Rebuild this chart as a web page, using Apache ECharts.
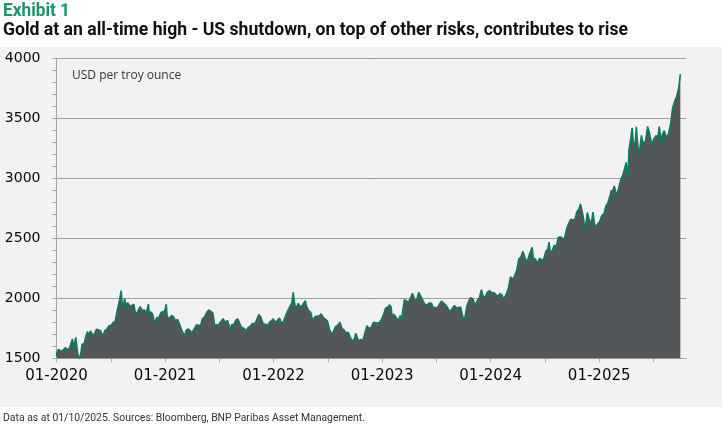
<!DOCTYPE html>
<html>
<head>
<meta charset="utf-8">
<script src="https://cdn.jsdelivr.net/npm/echarts@6/dist/echarts.min.js"></script>
<style>
html,body{margin:0;padding:0;background:#fff;}
#c{width:725px;height:424px;}
</style>
</head>
<body>
<div id="c"></div>
<script>
// ---- data: gold price, USD per troy ounce ----
const gold2020 = [
['2020-01-01',1520],['2020-01-03',1552],['2020-01-08',1575],['2020-01-10',1562],['2020-01-17',1557],['2020-01-24',1571],['2020-01-31',1589],
['2020-02-07',1570],['2020-02-14',1584],['2020-02-21',1643],['2020-02-24',1660],['2020-02-28',1585],
['2020-03-06',1674],['2020-03-09',1680],['2020-03-13',1530],['2020-03-19',1498],['2020-03-24',1555],['2020-03-27',1617],
['2020-04-03',1620],['2020-04-09',1683],['2020-04-14',1722],['2020-04-21',1687],['2020-04-24',1729],
['2020-05-01',1700],['2020-05-08',1702],['2020-05-15',1743],['2020-05-22',1735],['2020-05-29',1730],
['2020-06-05',1684],['2020-06-12',1730],['2020-06-19',1743],['2020-06-26',1771],
['2020-07-03',1775],['2020-07-10',1798],['2020-07-17',1810],['2020-07-24',1902],['2020-07-31',1975],
['2020-08-06',2063],['2020-08-11',1912],['2020-08-14',1944],['2020-08-18',2000],['2020-08-21',1940],['2020-08-28',1964],
['2020-09-04',1934],['2020-09-11',1940],['2020-09-18',1950],['2020-09-24',1862],['2020-09-30',1886],
['2020-10-09',1930],['2020-10-16',1900],['2020-10-23',1902],['2020-10-30',1879],
['2020-11-06',1951],['2020-11-09',1862],['2020-11-13',1887],['2020-11-20',1871],['2020-11-27',1788],['2020-11-30',1776],
['2020-12-04',1839],['2020-12-11',1839],['2020-12-18',1881],['2020-12-24',1877],['2020-12-31',1895]
];
const gold2021 = [
['2021-01-05',1950],['2021-01-08',1850],['2021-01-15',1829],['2021-01-22',1856],['2021-01-29',1848],
['2021-02-05',1814],['2021-02-12',1824],['2021-02-19',1784],['2021-02-26',1734],
['2021-03-05',1700],['2021-03-08',1683],['2021-03-12',1727],['2021-03-19',1745],['2021-03-26',1733],['2021-03-31',1708],
['2021-04-09',1744],['2021-04-16',1777],['2021-04-23',1777],['2021-04-30',1768],
['2021-05-07',1831],['2021-05-14',1844],['2021-05-21',1881],['2021-05-28',1903],['2021-06-01',1905],
['2021-06-04',1891],['2021-06-11',1877],['2021-06-17',1774],['2021-06-25',1781],['2021-06-29',1751],
['2021-07-02',1787],['2021-07-09',1808],['2021-07-15',1829],['2021-07-23',1802],['2021-07-30',1814],
['2021-08-06',1763],['2021-08-09',1729],['2021-08-13',1780],['2021-08-20',1781],['2021-08-27',1818],
['2021-09-03',1827],['2021-09-10',1788],['2021-09-17',1754],['2021-09-24',1750],['2021-09-29',1726],
['2021-10-08',1757],['2021-10-15',1768],['2021-10-22',1793],['2021-10-29',1783],
['2021-11-05',1818],['2021-11-12',1865],['2021-11-16',1852],['2021-11-19',1846],['2021-11-26',1792],
['2021-12-03',1783],['2021-12-10',1782],['2021-12-15',1764],['2021-12-17',1798],['2021-12-24',1811],['2021-12-31',1829]
];
const gold2022 = [
['2022-01-07',1797],['2022-01-14',1817],['2022-01-21',1835],['2022-01-28',1791],
['2022-02-04',1808],['2022-02-11',1859],['2022-02-18',1898],['2022-02-24',1905],
['2022-03-04',1966],['2022-03-08',2050],['2022-03-11',1988],['2022-03-16',1910],['2022-03-18',1921],['2022-03-25',1958],
['2022-04-01',1925],['2022-04-08',1945],['2022-04-18',1979],['2022-04-22',1932],['2022-04-29',1897],
['2022-05-06',1883],['2022-05-13',1811],['2022-05-16',1797],['2022-05-20',1846],['2022-05-27',1853],
['2022-06-03',1850],['2022-06-10',1871],['2022-06-17',1840],['2022-06-24',1827],
['2022-07-01',1811],['2022-07-08',1742],['2022-07-14',1703],['2022-07-22',1727],['2022-07-29',1766],
['2022-08-05',1775],['2022-08-12',1802],['2022-08-19',1747],['2022-08-26',1737],
['2022-09-02',1712],['2022-09-09',1716],['2022-09-16',1675],['2022-09-23',1644],['2022-09-28',1628],['2022-09-30',1661],
['2022-10-04',1708],['2022-10-14',1644],['2022-10-21',1657],['2022-10-28',1645],
['2022-11-03',1630],['2022-11-11',1771],['2022-11-18',1751],['2022-11-25',1755],
['2022-12-02',1797],['2022-12-09',1797],['2022-12-16',1793],['2022-12-23',1798],['2022-12-30',1824]
];
const gold2023 = [
['2023-01-06',1865],['2023-01-13',1920],['2023-01-20',1926],['2023-01-26',1946],['2023-01-31',1928],
['2023-02-03',1865],['2023-02-10',1865],['2023-02-17',1842],['2023-02-24',1811],
['2023-03-03',1856],['2023-03-08',1815],['2023-03-10',1868],['2023-03-17',1989],['2023-03-24',1978],['2023-03-31',1969],
['2023-04-07',2007],['2023-04-13',2041],['2023-04-21',1983],['2023-04-28',1990],
['2023-05-04',2050],['2023-05-12',2011],['2023-05-19',1977],['2023-05-26',1946],
['2023-06-02',1948],['2023-06-09',1961],['2023-06-16',1958],['2023-06-23',1921],['2023-06-29',1908],
['2023-07-07',1925],['2023-07-14',1955],['2023-07-20',1977],['2023-07-28',1959],
['2023-08-04',1943],['2023-08-11',1914],['2023-08-18',1889],['2023-08-25',1915],
['2023-09-01',1940],['2023-09-08',1919],['2023-09-15',1924],['2023-09-22',1925],['2023-09-29',1849],
['2023-10-05',1820],['2023-10-13',1933],['2023-10-20',1981],['2023-10-27',2006],
['2023-11-03',1992],['2023-11-10',1940],['2023-11-17',1981],['2023-11-24',2002],
['2023-12-01',2072],['2023-12-08',2005],['2023-12-15',2019],['2023-12-22',2053],['2023-12-29',2063]
];
const gold2024 = [
['2024-01-05',2045],['2024-01-12',2049],['2024-01-19',2029],['2024-01-26',2018],
['2024-02-02',2039],['2024-02-09',2024],['2024-02-14',1992],['2024-02-23',2036],
['2024-03-01',2083],['2024-03-08',2179],['2024-03-15',2155],['2024-03-21',2181],['2024-03-29',2233],
['2024-04-05',2329],['2024-04-12',2344],['2024-04-19',2391],['2024-04-26',2337],
['2024-05-03',2302],['2024-05-10',2360],['2024-05-20',2425],['2024-05-24',2333],['2024-05-31',2327],
['2024-06-07',2294],['2024-06-14',2333],['2024-06-21',2322],['2024-06-28',2326],
['2024-07-05',2391],['2024-07-12',2411],['2024-07-16',2469],['2024-07-19',2400],['2024-07-26',2387],
['2024-08-02',2443],['2024-08-09',2431],['2024-08-16',2507],['2024-08-23',2512],['2024-08-30',2503],
['2024-09-06',2497],['2024-09-13',2577],['2024-09-20',2622],['2024-09-27',2658],
['2024-10-04',2653],['2024-10-11',2657],['2024-10-18',2721],['2024-10-25',2747],['2024-10-30',2787],
['2024-11-08',2685],['2024-11-14',2565],['2024-11-22',2715],['2024-11-29',2650],
['2024-12-06',2633],['2024-12-11',2718],['2024-12-18',2586],['2024-12-27',2621]
];
const gold2025 = [
['2025-01-03',2640],['2025-01-10',2690],['2025-01-17',2703],['2025-01-24',2770],['2025-01-31',2799],
['2025-02-07',2861],['2025-02-11',2900],['2025-02-14',2883],['2025-02-21',2936],['2025-02-28',2858],
['2025-03-07',2910],['2025-03-14',2984],['2025-03-21',3023],['2025-03-28',3084],
['2025-04-02',3134],['2025-04-08',2982],['2025-04-11',3237],['2025-04-17',3327],['2025-04-22',3420],['2025-04-25',3319],
['2025-05-01',3240],['2025-05-06',3430],['2025-05-09',3325],['2025-05-15',3180],['2025-05-23',3357],['2025-05-29',3290],
['2025-06-06',3310],['2025-06-13',3432],['2025-06-20',3368],['2025-06-27',3274],
['2025-07-03',3326],['2025-07-11',3355],['2025-07-18',3350],['2025-07-22',3430],['2025-07-30',3275],
['2025-08-01',3362],['2025-08-08',3397],['2025-08-15',3336],['2025-08-22',3371],['2025-08-29',3448],
['2025-09-05',3586],['2025-09-12',3643],['2025-09-19',3685],['2025-09-26',3760],['2025-10-01',3868]
];
const yTicks = [1500, 2000, 2500, 3000, 3500, 4000];
const xYears = [2020, 2021, 2022, 2023, 2024, 2025];

const exhibitText = 'Exhibit 1';
const titleText = 'Gold at an all-time high - US shutdown, on top of other risks, contributes to rise';
const unitText = 'USD per troy ounce';
const noteText = 'Data as at 01/10/2025. Sources: Bloomberg, BNP Paribas Asset Management.';

// ---- helpers ----
function decYear(s) {
  const [y, m, d] = s.split('-').map(Number);
  const start = Date.UTC(y, 0, 1), end = Date.UTC(y + 1, 0, 1);
  return y + (Date.UTC(y, m - 1, d) - start) / (end - start);
}
const series = [].concat(gold2020, gold2021, gold2022, gold2023, gold2024, gold2025)
  .map(p => [decYear(p[0]), p[1]]);

const ctx = document.createElement('canvas').getContext('2d');
function fitScale(text, font, width) {
  ctx.font = font;
  return width / ctx.measureText(text).width;
}

const titleFont = 'bold 18px Roboto';
const noteFont = '10.5px Roboto';
const exFont = 'bold 19px Roboto';

const chart = echarts.init(document.getElementById('c'), null, {renderer: 'canvas'});
chart.setOption({
  animation: false,
  backgroundColor: '#ffffff',
  graphic: [
    {type: 'rect', z: -10, silent: true, shape: {x: 0, y: 47, width: 722, height: 360}, style: {fill: '#f2f2f2'}},
    {type: 'text', x: 3, y: 11, scaleX: fitScale(exhibitText, exFont, 67), style: {text: exhibitText, font: exFont, fill: '#16966a', verticalAlign: 'middle'}},
    {type: 'text', x: 3, y: 30.5, scaleX: fitScale(titleText, titleFont, 625), style: {text: titleText, font: titleFont, fill: '#111111', verticalAlign: 'middle'}},
    {type: 'text', x: 72, y: 76, style: {text: unitText, font: '12px "Open Sans"', fill: '#333333', verticalAlign: 'middle'}},
    {type: 'text', x: 3, y: 418, scaleX: fitScale(noteText, noteFont, 362), style: {text: noteText, font: noteFont, fill: '#333333', verticalAlign: 'middle'}}
  ],
  grid: {left: 56.5, right: 39, top: 58.3, bottom: 65.7},
  xAxis: {
    type: 'value',
    min: xYears[0],
    max: 2025.8,
    interval: 0.5,
    axisLine: {show: true, lineStyle: {color: '#a6a6a6', width: 1}},
    axisTick: {show: true, length: 4, inside: false, lineStyle: {color: '#a6a6a6'}},
    splitLine: {show: false},
    axisLabel: {
      margin: 10,
      fontFamily: 'DejaVu Sans',
      fontSize: 15,
      color: '#0a0a0a',
      showMaxLabel: false,
      formatter: v => (xYears.indexOf(Math.round(v * 1000) / 1000) >= 0 ? '01-' + v : '')
    }
  },
  yAxis: {
    type: 'value',
    min: yTicks[0],
    max: yTicks[yTicks.length - 1],
    interval: 500,
    axisLine: {show: true, lineStyle: {color: '#a6a6a6', width: 1}},
    axisTick: {show: true, length: 4, lineStyle: {color: '#a6a6a6'}},
    minorTick: {show: true, splitNumber: 5, length: 4, lineStyle: {color: '#a6a6a6'}},
    splitLine: {show: true, lineStyle: {color: '#a0a0a0', width: 1}},
    axisLabel: {margin: 16, fontFamily: 'DejaVu Sans', fontSize: 14, color: '#0a0a0a', formatter: v => String(v)}
  },
  series: [{
    type: 'line',
    data: series,
    symbol: 'none',
    clip: true,
    lineStyle: {color: '#0f7a62', width: 1.6},
    areaStyle: {color: '#54575a', opacity: 1, origin: 'start'},
    z: 3
  }]
});
</script>
</body>
</html>
